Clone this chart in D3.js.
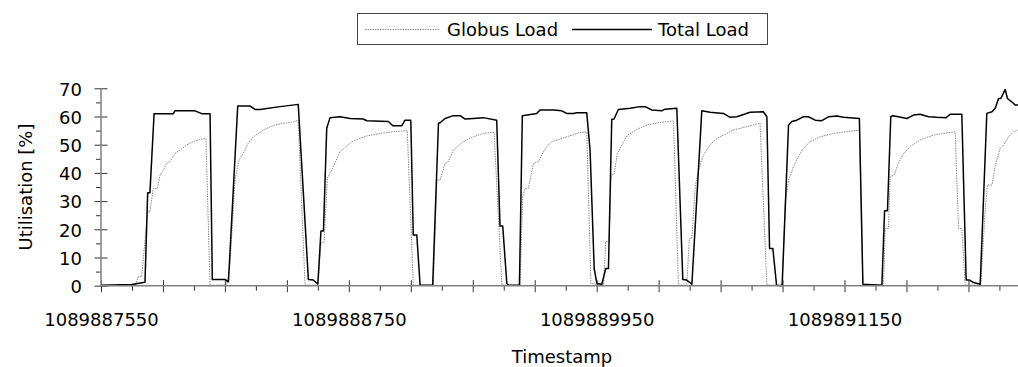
<!DOCTYPE html>
<html><head><meta charset="utf-8">
<script src="https://cdn.jsdelivr.net/npm/d3@7"></script>
<style>
body{margin:0;background:#fff}
svg text{font-family:"DejaVu Sans",Verdana,sans-serif;fill:#000}
</style>
</head><body>
<svg id="chart" width="1018" height="367"></svg>
<script>
// ---- data (timestamp = t0 + offset seconds) ----
const t0 = 1089887550;
const tEnd = 1089891990;
const seriesNames = ["Globus Load", "Total Load"];
const totalOffsets = [0,150,205,213,226,237,257,350,358,455,488,528,539,600,617,662,722,746,770,867,955,1004,1028,1050,1065,1077,1093,1109,1157,1206,1270,1287,1391,1413,1456,1472,1500,1512,1529,1545,1606,1634,1642,1666,1706,1739,1763,1803,1851,1916,1932,1945,1965,1973,2026,2040,2110,2126,2190,2231,2255,2287,2304,2352,2368,2388,2401,2425,2444,2457,2473,2484,2505,2562,2610,2635,2667,2715,2731,2788,2817,2836,2861,2909,2949,3014,3046,3079,3143,3207,3224,3237,3253,3271,3298,3329,3345,3369,3401,3425,3458,3490,3522,3563,3595,3672,3689,3781,3794,3808,3824,3834,3861,3902,3934,3966,4007,4047,4092,4112,4168,4189,4205,4225,4257,4289,4314,4330,4346,4357,4378,4389,4402,4418,4426,4440];
const totalValues = [0.2,0.4,1.1,1.2,33,33,61,61,62,62,61,61,2.2,2.2,1.4,63.7,63.7,62.5,62.5,63.5,64.3,2.2,2,0.6,19.4,19.4,55.8,59.6,59.9,59.3,59.1,58.5,58.2,56.7,56.7,58.7,58.7,18,18,0.2,0.2,57.6,57.8,59.3,60.3,60.3,59.1,59.3,59.6,58.7,21.2,21.2,0.8,0.2,0.2,60.3,61.1,62.3,62.3,62,61.1,61.1,61.3,61.3,48.1,6.1,0.8,0.5,6.1,6.1,59,59.1,62.5,62.9,63.5,63.5,62.3,62,62.6,62.9,2.2,2,0.5,62,61.5,61.1,59.7,59.9,61.5,61.7,59.9,13.2,13.2,0.2,0,57,58.2,58.7,59.9,59.9,58.7,58.5,59.9,60.2,59.7,59.3,0.5,0.2,26.6,26.6,59.9,60.3,59.9,59.3,60.5,60.8,59.9,59.7,59.6,60.8,60.8,2,2,1.1,0.5,61.1,61.7,62.9,66.4,66.4,69.6,66.4,65.6,64.7,64.1,64.1];
const globusOffsets = [0,165,181,197,226,237,253,273,286,302,318,334,358,383,415,447,479,508,528,609,625,649,668,689,713,738,762,786,810,843,883,924,955,988,1050,1065,1080,1096,1125,1157,1190,1222,1287,1351,1416,1483,1512,1609,1626,1642,1666,1682,1706,1755,1803,1851,1903,1941,2029,2042,2053,2069,2094,2118,2142,2158,2183,2223,2271,2320,2352,2372,2433,2444,2460,2470,2484,2500,2549,2594,2643,2707,2772,2796,2836,2849,2861,2877,2893,2917,2949,2982,3030,3062,3127,3191,3224,3298,3313,3329,3353,3377,3401,3434,3482,3546,3611,3672,3689,3789,3797,3813,3821,3840,3861,3886,3918,3966,4031,4079,4136,4152,4168,4184,4260,4281,4292,4314,4330,4354,4370,4394,4418,4440];
const globusValues = [0,0,3.2,3.2,26.2,26.2,34.5,34.5,39.2,41,43.4,44,46.9,48.1,49.9,51.1,51.9,52.2,0.2,0.2,7.9,37.5,44.6,46.9,50.5,52.8,54,55.2,56.1,57,57.6,57.9,58.7,0.2,0.2,15,15.6,38.1,42.2,47.5,49.5,51.4,53.1,54,54.6,55,0.2,0.2,37.5,37.5,43.4,44,48.1,51.1,52.8,54,54.4,0.2,0.2,31.6,34.5,34.5,43.4,44,47.5,49.3,51.1,52,53.2,54.3,54.5,0.8,0.2,15.6,15.6,39.2,39.5,46.9,53.4,55.4,57,57.9,58.4,0.2,0.2,16.8,16.8,35.1,41,46.3,49.9,52.2,54,55.2,56.4,57.6,0.2,0.2,29.2,37.5,42.2,45.7,48.7,51.1,52.8,54,54.6,55.2,0.2,0.2,20.3,20.3,38.7,39.2,43.4,46.9,49.3,51.7,53.4,54,54.6,20.3,20.3,0.2,0.2,26.8,35.7,35.7,42.8,48.7,49.9,52.8,54.6,55.2];
const yTickValues = [0,10,20,30,40,50,60,70];
const yMinorValues = [5,15,25,35,45,55,65];
const xLabelTicks = [1089887550,1089888750,1089889950,1089891150];
const xMajorStep = 300, xMinorStep = 150;

// ---- layout ----
const svg = d3.select("#chart");
const pLeft = 101, pRight = 1018, pTop = 88.3, pBottom = 285.7;
const x = d3.scaleLinear().domain([t0, tEnd]).range([pLeft, pRight]);
const y = d3.scaleLinear().domain([0, 70]).range([pBottom, pTop]);
const FS = 18;

const totalData = totalOffsets.map((o,i)=>({t:t0+o, v:totalValues[i]}));
const globusData = globusOffsets.map((o,i)=>({t:t0+o, v:globusValues[i]}));

svg.append("defs").append("clipPath").attr("id","clip")
  .append("rect").attr("x",pLeft).attr("y",pTop-10).attr("width",pRight-pLeft).attr("height",pBottom-pTop+12);

const line = d3.line().x(d=>x(d.t)).y(d=>y(d.v));
const plot = svg.append("g").attr("clip-path","url(#clip)");
plot.append("path").datum(globusData).attr("d",line)
  .attr("fill","none").attr("stroke","#8a8a8a").attr("stroke-width",1).attr("stroke-dasharray","1.5,1");
plot.append("path").datum(totalData).attr("d",line)
  .attr("fill","none").attr("stroke","#000").attr("stroke-width",1.5).attr("stroke-linejoin","round");

// ---- axes ----
const tickColor = "#333", axisColor = "#808080";
function styleAxis(g){ g.select(".domain").remove(); g.selectAll(".tick line").attr("stroke",tickColor); }

const xMajor = d3.range(t0, tEnd+1, xMajorStep);
const xMinor = d3.range(t0+xMinorStep, tEnd+1, xMajorStep);
svg.append("g").attr("transform",`translate(0,${pBottom})`)
  .call(d3.axisBottom(x).tickValues(xMajor).tickSize(6.5).tickFormat("")).call(styleAxis);
svg.append("g").attr("transform",`translate(0,${pBottom})`)
  .call(d3.axisTop(x).tickValues(xMajor).tickSize(5.5).tickFormat("")).call(styleAxis);
svg.append("g").attr("transform",`translate(0,${pBottom})`)
  .call(d3.axisBottom(x).tickValues(xMinor).tickSize(5).tickFormat("")).call(styleAxis);
const xl = svg.append("g").attr("transform",`translate(0,${pBottom})`)
  .call(d3.axisBottom(x).tickValues(xLabelTicks).tickSize(0).tickPadding(27.5).tickFormat(d3.format("d")));
xl.select(".domain").remove();
xl.selectAll("text").attr("font-size",FS).attr("font-family","DejaVu Sans, sans-serif").attr("fill","#000");

svg.append("g").attr("transform",`translate(${pLeft},0)`)
  .call(d3.axisLeft(y).tickValues(yTickValues).tickSize(6.5).tickFormat("")).call(styleAxis);
svg.append("g").attr("transform",`translate(${pLeft},0)`)
  .call(d3.axisRight(y).tickValues(yTickValues).tickSize(6.5).tickFormat("")).call(styleAxis);
svg.append("g").attr("transform",`translate(${pLeft},0)`)
  .call(d3.axisLeft(y).tickValues(yMinorValues).tickSize(5).tickFormat("")).call(styleAxis);
const yl = svg.append("g").attr("transform",`translate(${pLeft},0)`)
  .call(d3.axisLeft(y).tickValues(yTickValues).tickSize(0).tickPadding(19));
yl.select(".domain").remove();
yl.selectAll("text").attr("font-size",FS).attr("font-family","DejaVu Sans, sans-serif").attr("fill","#000").attr("dy","0.38em");

// axis lines
svg.append("line").attr("x1",pLeft).attr("x2",pRight).attr("y1",pBottom).attr("y2",pBottom)
  .attr("stroke",axisColor).attr("stroke-width",1.5);
svg.append("line").attr("x1",pLeft).attr("x2",pLeft).attr("y1",pTop).attr("y2",pBottom)
  .attr("stroke",axisColor).attr("stroke-width",1.5);

// titles
svg.append("text").attr("x",562).attr("y",362.5).attr("text-anchor","middle")
  .attr("font-size",FS).text("Timestamp");
svg.append("text").attr("transform","translate(31.5,187) rotate(-90)").attr("text-anchor","middle")
  .attr("font-size",FS).text("Utilisation [%]");

// legend
const lg = svg.append("g");
lg.append("rect").attr("x",357.5).attr("y",13.5).attr("width",410).attr("height",31)
  .attr("fill","#fff").attr("stroke","#444").attr("stroke-width",1);
lg.append("line").attr("x1",365).attr("x2",440).attr("y1",29.5).attr("y2",29.5)
  .attr("stroke","#8a8a8a").attr("stroke-width",1).attr("stroke-dasharray","1.5,1");
lg.append("text").attr("x",447).attr("y",36).attr("font-size",FS).text(seriesNames[0]);
lg.append("line").attr("x1",572).attr("x2",652).attr("y1",29.5).attr("y2",29.5)
  .attr("stroke","#000").attr("stroke-width",1.5);
lg.append("text").attr("x",658).attr("y",36).attr("font-size",FS).text(seriesNames[1]);
</script>
</body></html>
